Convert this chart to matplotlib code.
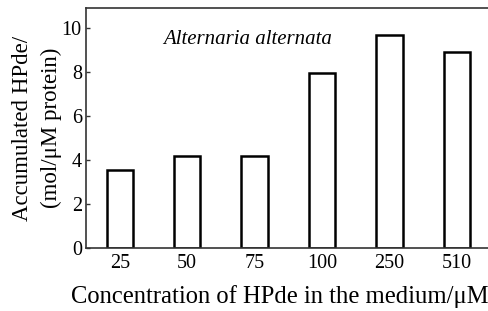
import matplotlib.pyplot as plt
import numpy as np

plt.rcParams['font.family'] = ['Liberation Serif', 'DejaVu Serif']

concentrations = ['25', '50', '75', '100', '250', '510']
hpde = [3.53, 4.2, 4.2, 7.95, 9.68, 8.92]

fig = plt.figure(figsize=(4.89, 3.11), dpi=100)
ax = fig.add_axes([86 / 489, 63 / 311, 1 - 86 / 489 + 0.01, 240 / 311])

x = np.arange(len(concentrations))
ax.bar(x, hpde, width=0.39, facecolor='white', edgecolor='black', linewidth=1.8)

ax.set_xlim(-0.5, 5.55)
ax.set_ylim(0, 10.9)
ax.set_yticks([0, 2, 4, 6, 8, 10])
ax.set_xticks(x)
ax.set_xticklabels(concentrations)
ax.tick_params(axis='y', labelsize=14.5, direction='in', length=3, width=1, color='#333333', pad=3)
ax.tick_params(axis='x', labelsize=14.5, length=0, pad=4)

for side in ['left', 'bottom', 'top']:
    ax.spines[side].set_color('#333333')
    ax.spines[side].set_linewidth(1.2)
ax.spines['right'].set_visible(False)

ax.text(0.64, 9.45, 'Alternaria alternata', fontsize=15, style='italic', va='center')

ax.set_ylabel('Accumulated HPde/\n(mol/\u03bcM protein)', fontsize=16.5, linespacing=1.45, labelpad=0)
fig.text(279.5 / 489, 1 - 297 / 311, 'Concentration of HPde in the medium/\u03bcM',
         fontsize=17.7, ha='center', va='center')

fig.savefig('out.png', dpi=100)
